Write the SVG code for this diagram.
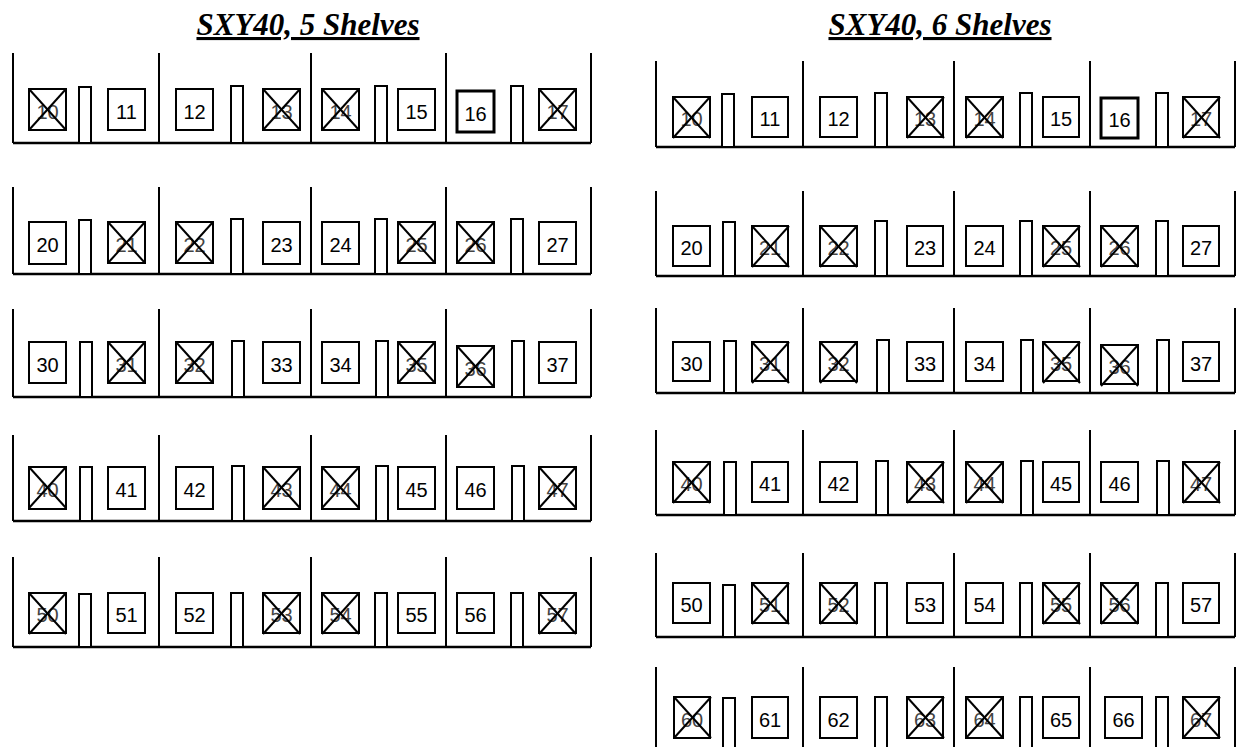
<svg xmlns="http://www.w3.org/2000/svg" xmlns:xlink="http://www.w3.org/1999/xlink" width="1238" height="747" viewBox="0 0 1238 747">
<style>
.bg{fill:#fff}
.frame{fill:none;stroke:#000;stroke-width:2}
.base{fill:none;stroke:#000;stroke-width:2.5}
.post{fill:#fff;stroke:#000;stroke-width:2}
.box{fill:#fff;stroke:#000;stroke-width:2}
.thick{stroke-width:3}
.x line{stroke:#000;stroke-width:2}
.lbl{font-family:"Liberation Sans",Arial,sans-serif;font-size:20px;text-anchor:middle;fill:#000}
.lx{fill:#444}
.title{font-family:"Liberation Serif","Times New Roman",serif;font-weight:bold;font-style:italic;font-size:31px;text-anchor:middle;text-decoration:underline;fill:#000}
</style>
<defs>
<g id="xm" class="x"><line x1="0" y1="0" x2="37" y2="41"/><line x1="37" y1="0" x2="0" y2="41"/></g>
</defs>
<rect class="bg" x="0" y="0" width="1238" height="747"/>
<g id="titles">
<text class="title" x="308" y="35">SXY40, 5 Shelves</text>
<text class="title" x="940" y="35">SXY40, 6 Shelves</text>
</g>
<g id="shelves">
<!-- left unit -->
<path class="frame" d="M13,53V143M159,53V143M311,53V143M446,53V143M591,53V143"/><path class="base" d="M13,143H591"/>
<path class="frame" d="M13,187V274M159,187V274M311,187V274M446,187V274M591,187V274"/><path class="base" d="M13,274H591"/>
<path class="frame" d="M13,309V397M159,309V397M311,309V397M446,309V397M591,309V397"/><path class="base" d="M13,397H591"/>
<path class="frame" d="M13,435V521M159,435V521M311,435V521M446,435V521M591,435V521"/><path class="base" d="M13,521H591"/>
<path class="frame" d="M13,557V647M159,557V647M311,557V647M446,557V647M591,557V647"/><path class="base" d="M13,647H591"/>
<!-- right unit -->
<path class="frame" d="M656,61V147M803,61V147M954,61V147M1090,61V147M1235,61V147"/><path class="base" d="M656,147H1235"/>
<path class="frame" d="M656,191V276M803,191V276M954,191V276M1090,191V276M1235,191V276"/><path class="base" d="M656,276H1235"/>
<path class="frame" d="M656,308V393M803,308V393M954,308V393M1090,308V393M1235,308V393"/><path class="base" d="M656,393H1235"/>
<path class="frame" d="M656,430V515M803,430V515M954,430V515M1090,430V515M1235,430V515"/><path class="base" d="M656,515H1235"/>
<path class="frame" d="M656,553V637M803,553V637M954,553V637M1090,553V637M1235,553V637"/><path class="base" d="M656,637H1235"/>
<path class="frame" d="M656,667V751M803,667V751M954,667V751M1090,667V751M1235,667V751"/><path class="base" d="M656,751H1235"/>
<!-- posts left -->
<rect class="post" x="79" y="87" width="12" height="56"/><rect class="post" x="231" y="86" width="12" height="57"/><rect class="post" x="375" y="86" width="12" height="57"/><rect class="post" x="511" y="86" width="12" height="57"/>
<rect class="post" x="79" y="220" width="12" height="54"/><rect class="post" x="231" y="219" width="12" height="55"/><rect class="post" x="375" y="219" width="12" height="55"/><rect class="post" x="511" y="219" width="12" height="55"/>
<rect class="post" x="80" y="342" width="12" height="55"/><rect class="post" x="232" y="341" width="12" height="56"/><rect class="post" x="376" y="341" width="12" height="56"/><rect class="post" x="512" y="341" width="12" height="56"/>
<rect class="post" x="80" y="467" width="12" height="54"/><rect class="post" x="232" y="466" width="12" height="55"/><rect class="post" x="376" y="466" width="12" height="55"/><rect class="post" x="512" y="466" width="12" height="55"/>
<rect class="post" x="79" y="594" width="12" height="53"/><rect class="post" x="231" y="593" width="12" height="54"/><rect class="post" x="375" y="593" width="12" height="54"/><rect class="post" x="511" y="593" width="12" height="54"/>
<!-- posts right -->
<rect class="post" x="722" y="94" width="12" height="53"/><rect class="post" x="875" y="93" width="12" height="54"/><rect class="post" x="1020" y="93" width="12" height="54"/><rect class="post" x="1156" y="93" width="12" height="54"/>
<rect class="post" x="723" y="222" width="12" height="54"/><rect class="post" x="875" y="221" width="12" height="55"/><rect class="post" x="1020" y="221" width="12" height="55"/><rect class="post" x="1156" y="221" width="12" height="55"/>
<rect class="post" x="724" y="341" width="12" height="52"/><rect class="post" x="877" y="340" width="12" height="53"/><rect class="post" x="1021" y="340" width="12" height="53"/><rect class="post" x="1157" y="340" width="12" height="53"/>
<rect class="post" x="724" y="462" width="12" height="53"/><rect class="post" x="876" y="461" width="12" height="54"/><rect class="post" x="1021" y="461" width="12" height="54"/><rect class="post" x="1157" y="461" width="12" height="54"/>
<rect class="post" x="723" y="585" width="12" height="52"/><rect class="post" x="875" y="583" width="12" height="54"/><rect class="post" x="1020" y="583" width="12" height="54"/><rect class="post" x="1156" y="583" width="12" height="54"/>
<rect class="post" x="723" y="698" width="12" height="53"/><rect class="post" x="875" y="697" width="12" height="54"/><rect class="post" x="1020" y="697" width="12" height="54"/><rect class="post" x="1156" y="697" width="12" height="54"/>
</g>
<!-- LEFT UNIT BOXES -->
<g id="L-row1">
<g id="L10" transform="translate(29,89)"><rect class="box" width="37" height="41"/><text class="lbl lx" x="18.5" y="29.5">10</text><use xlink:href="#xm"/></g>
<g id="L11" transform="translate(108,89)"><rect class="box" width="37" height="41"/><text class="lbl" x="18.5" y="29.5">11</text></g>
<g id="L12" transform="translate(176,89)"><rect class="box" width="37" height="41"/><text class="lbl" x="18.5" y="29.5">12</text></g>
<g id="L13" transform="translate(263,89)"><rect class="box" width="37" height="41"/><text class="lbl lx" x="18.5" y="29.5">13</text><use xlink:href="#xm"/></g>
<g id="L14" transform="translate(322,89)"><rect class="box" width="37" height="41"/><text class="lbl lx" x="18.5" y="29.5">14</text><use xlink:href="#xm"/></g>
<g id="L15" transform="translate(398,89)"><rect class="box" width="37" height="41"/><text class="lbl" x="18.5" y="29.5">15</text></g>
<g id="L16" transform="translate(457,91)"><rect class="box thick" width="37" height="41"/><text class="lbl" x="18.5" y="29.5">16</text></g>
<g id="L17" transform="translate(539,89)"><rect class="box" width="37" height="41"/><text class="lbl lx" x="18.5" y="29.5">17</text><use xlink:href="#xm"/></g>
</g>
<g id="L-row2">
<g id="L20" transform="translate(29,222)"><rect class="box" width="37" height="42"/><text class="lbl" x="18.5" y="29.5">20</text></g>
<g id="L21" transform="translate(108,222)"><rect class="box" width="37" height="41"/><text class="lbl lx" x="18.5" y="29.5">21</text><use xlink:href="#xm"/></g>
<g id="L22" transform="translate(176,222)"><rect class="box" width="37" height="41"/><text class="lbl lx" x="18.5" y="29.5">22</text><use xlink:href="#xm"/></g>
<g id="L23" transform="translate(263,222)"><rect class="box" width="37" height="42"/><text class="lbl" x="18.5" y="29.5">23</text></g>
<g id="L24" transform="translate(322,222)"><rect class="box" width="37" height="42"/><text class="lbl" x="18.5" y="29.5">24</text></g>
<g id="L25" transform="translate(398,222)"><rect class="box" width="37" height="41"/><text class="lbl lx" x="18.5" y="29.5">25</text><use xlink:href="#xm"/></g>
<g id="L26" transform="translate(457,222)"><rect class="box" width="37" height="41"/><text class="lbl lx" x="18.5" y="29.5">26</text><use xlink:href="#xm"/></g>
<g id="L27" transform="translate(539,222)"><rect class="box" width="37" height="42"/><text class="lbl" x="18.5" y="29.5">27</text></g>
</g>
<g id="L-row3">
<g id="L30" transform="translate(29,342)"><rect class="box" width="37" height="41"/><text class="lbl" x="18.5" y="29.5">30</text></g>
<g id="L31" transform="translate(108,342)"><rect class="box" width="37" height="41"/><text class="lbl lx" x="18.5" y="29.5">31</text><use xlink:href="#xm"/></g>
<g id="L32" transform="translate(176,342)"><rect class="box" width="37" height="41"/><text class="lbl lx" x="18.5" y="29.5">32</text><use xlink:href="#xm"/></g>
<g id="L33" transform="translate(263,342)"><rect class="box" width="37" height="41"/><text class="lbl" x="18.5" y="29.5">33</text></g>
<g id="L34" transform="translate(322,342)"><rect class="box" width="37" height="41"/><text class="lbl" x="18.5" y="29.5">34</text></g>
<g id="L35" transform="translate(398,342)"><rect class="box" width="37" height="41"/><text class="lbl lx" x="18.5" y="29.5">35</text><use xlink:href="#xm"/></g>
<g id="L36" transform="translate(457,346)"><rect class="box" width="37" height="41"/><text class="lbl lx" x="18.5" y="29.5">36</text><use xlink:href="#xm"/></g>
<g id="L37" transform="translate(539,342)"><rect class="box" width="37" height="41"/><text class="lbl" x="18.5" y="29.5">37</text></g>
</g>
<g id="L-row4">
<g id="L40" transform="translate(29,467)"><rect class="box" width="37" height="42"/><text class="lbl lx" x="18.5" y="29.5">40</text><use xlink:href="#xm"/></g>
<g id="L41" transform="translate(108,467)"><rect class="box" width="37" height="42"/><text class="lbl" x="18.5" y="29.5">41</text></g>
<g id="L42" transform="translate(176,467)"><rect class="box" width="37" height="42"/><text class="lbl" x="18.5" y="29.5">42</text></g>
<g id="L43" transform="translate(263,467)"><rect class="box" width="37" height="42"/><text class="lbl lx" x="18.5" y="29.5">43</text><use xlink:href="#xm"/></g>
<g id="L44" transform="translate(322,467)"><rect class="box" width="37" height="42"/><text class="lbl lx" x="18.5" y="29.5">44</text><use xlink:href="#xm"/></g>
<g id="L45" transform="translate(398,467)"><rect class="box" width="37" height="42"/><text class="lbl" x="18.5" y="29.5">45</text></g>
<g id="L46" transform="translate(457,467)"><rect class="box" width="37" height="42"/><text class="lbl" x="18.5" y="29.5">46</text></g>
<g id="L47" transform="translate(539,467)"><rect class="box" width="37" height="42"/><text class="lbl lx" x="18.5" y="29.5">47</text><use xlink:href="#xm"/></g>
</g>
<g id="L-row5">
<g id="L50" transform="translate(29,593)"><rect class="box" width="37" height="40"/><text class="lbl lx" x="18.5" y="29">50</text><use xlink:href="#xm"/></g>
<g id="L51" transform="translate(108,593)"><rect class="box" width="37" height="40"/><text class="lbl" x="18.5" y="29">51</text></g>
<g id="L52" transform="translate(176,593)"><rect class="box" width="37" height="40"/><text class="lbl" x="18.5" y="29">52</text></g>
<g id="L53" transform="translate(263,593)"><rect class="box" width="37" height="40"/><text class="lbl lx" x="18.5" y="29">53</text><use xlink:href="#xm"/></g>
<g id="L54" transform="translate(322,593)"><rect class="box" width="37" height="40"/><text class="lbl lx" x="18.5" y="29">54</text><use xlink:href="#xm"/></g>
<g id="L55" transform="translate(398,593)"><rect class="box" width="37" height="40"/><text class="lbl" x="18.5" y="29">55</text></g>
<g id="L56" transform="translate(457,593)"><rect class="box" width="37" height="40"/><text class="lbl" x="18.5" y="29">56</text></g>
<g id="L57" transform="translate(539,593)"><rect class="box" width="37" height="40"/><text class="lbl lx" x="18.5" y="29">57</text><use xlink:href="#xm"/></g>
</g>
<!-- RIGHT UNIT BOXES -->
<g id="R-row1">
<g id="R10" transform="translate(673,97)"><rect class="box" width="37" height="40"/><text class="lbl lx" x="18.5" y="29">10</text><use xlink:href="#xm"/></g>
<g id="R11" transform="translate(752,97)"><rect class="box" width="36" height="40"/><text class="lbl" x="18" y="29">11</text></g>
<g id="R12" transform="translate(820,97)"><rect class="box" width="37" height="40"/><text class="lbl" x="18.5" y="29">12</text></g>
<g id="R13" transform="translate(907,97)"><rect class="box" width="36" height="40"/><text class="lbl lx" x="18" y="29">13</text><use xlink:href="#xm"/></g>
<g id="R14" transform="translate(966,97)"><rect class="box" width="37" height="40"/><text class="lbl lx" x="18.5" y="29">14</text><use xlink:href="#xm"/></g>
<g id="R15" transform="translate(1043,97)"><rect class="box" width="36" height="40"/><text class="lbl" x="18" y="29">15</text></g>
<g id="R16" transform="translate(1101,98)"><rect class="box thick" width="37" height="40"/><text class="lbl" x="18.5" y="29">16</text></g>
<g id="R17" transform="translate(1183,97)"><rect class="box" width="36" height="40"/><text class="lbl lx" x="18" y="29">17</text><use xlink:href="#xm"/></g>
</g>
<g id="R-row2">
<g id="R20" transform="translate(673,226)"><rect class="box" width="37" height="40"/><text class="lbl" x="18.5" y="29">20</text></g>
<g id="R21" transform="translate(752,226)"><rect class="box" width="36" height="40"/><text class="lbl lx" x="18" y="29">21</text><use xlink:href="#xm"/></g>
<g id="R22" transform="translate(820,226)"><rect class="box" width="37" height="40"/><text class="lbl lx" x="18.5" y="29">22</text><use xlink:href="#xm"/></g>
<g id="R23" transform="translate(907,226)"><rect class="box" width="36" height="40"/><text class="lbl" x="18" y="29">23</text></g>
<g id="R24" transform="translate(966,226)"><rect class="box" width="37" height="40"/><text class="lbl" x="18.5" y="29">24</text></g>
<g id="R25" transform="translate(1043,226)"><rect class="box" width="36" height="40"/><text class="lbl lx" x="18" y="29">25</text><use xlink:href="#xm"/></g>
<g id="R26" transform="translate(1101,226)"><rect class="box" width="37" height="40"/><text class="lbl lx" x="18.5" y="29">26</text><use xlink:href="#xm"/></g>
<g id="R27" transform="translate(1183,226)"><rect class="box" width="36" height="40"/><text class="lbl" x="18" y="29">27</text></g>
</g>
<g id="R-row3">
<g id="R30" transform="translate(673,342)"><rect class="box" width="37" height="39"/><text class="lbl" x="18.5" y="28.5">30</text></g>
<g id="R31" transform="translate(752,342)"><rect class="box" width="36" height="39"/><text class="lbl lx" x="18" y="28.5">31</text><use xlink:href="#xm"/></g>
<g id="R32" transform="translate(820,342)"><rect class="box" width="37" height="39"/><text class="lbl lx" x="18.5" y="28.5">32</text><use xlink:href="#xm"/></g>
<g id="R33" transform="translate(907,342)"><rect class="box" width="36" height="39"/><text class="lbl" x="18" y="28.5">33</text></g>
<g id="R34" transform="translate(966,342)"><rect class="box" width="37" height="39"/><text class="lbl" x="18.5" y="28.5">34</text></g>
<g id="R35" transform="translate(1043,342)"><rect class="box" width="36" height="39"/><text class="lbl lx" x="18" y="28.5">35</text><use xlink:href="#xm"/></g>
<g id="R36" transform="translate(1101,345)"><rect class="box" width="37" height="39"/><text class="lbl lx" x="18.5" y="28.5">36</text><use xlink:href="#xm"/></g>
<g id="R37" transform="translate(1183,342)"><rect class="box" width="36" height="39"/><text class="lbl" x="18" y="28.5">37</text></g>
</g>
<g id="R-row4">
<g id="R40" transform="translate(673,462)"><rect class="box" width="37" height="40"/><text class="lbl lx" x="18.5" y="29">40</text><use xlink:href="#xm"/></g>
<g id="R41" transform="translate(752,462)"><rect class="box" width="36" height="40"/><text class="lbl" x="18" y="29">41</text></g>
<g id="R42" transform="translate(820,462)"><rect class="box" width="37" height="40"/><text class="lbl" x="18.5" y="29">42</text></g>
<g id="R43" transform="translate(907,462)"><rect class="box" width="36" height="40"/><text class="lbl lx" x="18" y="29">43</text><use xlink:href="#xm"/></g>
<g id="R44" transform="translate(966,462)"><rect class="box" width="37" height="40"/><text class="lbl lx" x="18.5" y="29">44</text><use xlink:href="#xm"/></g>
<g id="R45" transform="translate(1043,462)"><rect class="box" width="36" height="40"/><text class="lbl" x="18" y="29">45</text></g>
<g id="R46" transform="translate(1101,462)"><rect class="box" width="37" height="40"/><text class="lbl" x="18.5" y="29">46</text></g>
<g id="R47" transform="translate(1183,462)"><rect class="box" width="36" height="40"/><text class="lbl lx" x="18" y="29">47</text><use xlink:href="#xm"/></g>
</g>
<g id="R-row5">
<g id="R50" transform="translate(673,583)"><rect class="box" width="37" height="40"/><text class="lbl" x="18.5" y="29">50</text></g>
<g id="R51" transform="translate(752,583)"><rect class="box" width="36" height="40"/><text class="lbl lx" x="18" y="29">51</text><use xlink:href="#xm"/></g>
<g id="R52" transform="translate(820,583)"><rect class="box" width="37" height="40"/><text class="lbl lx" x="18.5" y="29">52</text><use xlink:href="#xm"/></g>
<g id="R53" transform="translate(907,583)"><rect class="box" width="36" height="40"/><text class="lbl" x="18" y="29">53</text></g>
<g id="R54" transform="translate(966,583)"><rect class="box" width="37" height="40"/><text class="lbl" x="18.5" y="29">54</text></g>
<g id="R55" transform="translate(1043,583)"><rect class="box" width="36" height="40"/><text class="lbl lx" x="18" y="29">55</text><use xlink:href="#xm"/></g>
<g id="R56" transform="translate(1101,583)"><rect class="box" width="37" height="40"/><text class="lbl lx" x="18.5" y="29">56</text><use xlink:href="#xm"/></g>
<g id="R57" transform="translate(1183,583)"><rect class="box" width="36" height="40"/><text class="lbl" x="18" y="29">57</text></g>
</g>
<g id="R-row6">
<g id="R60" transform="translate(674,697)"><rect class="box" width="36" height="41"/><text class="lbl lx" x="18" y="29.5">60</text><use xlink:href="#xm"/></g>
<g id="R61" transform="translate(752,697)"><rect class="box" width="36" height="41"/><text class="lbl" x="18" y="29.5">61</text></g>
<g id="R62" transform="translate(820,697)"><rect class="box" width="37" height="41"/><text class="lbl" x="18.5" y="29.5">62</text></g>
<g id="R63" transform="translate(907,697)"><rect class="box" width="36" height="41"/><text class="lbl lx" x="18" y="29.5">63</text><use xlink:href="#xm"/></g>
<g id="R64" transform="translate(966,697)"><rect class="box" width="37" height="41"/><text class="lbl lx" x="18.5" y="29.5">64</text><use xlink:href="#xm"/></g>
<g id="R65" transform="translate(1043,697)"><rect class="box" width="36" height="41"/><text class="lbl" x="18" y="29.5">65</text></g>
<g id="R66" transform="translate(1105,697)"><rect class="box" width="37" height="41"/><text class="lbl" x="18.5" y="29.5">66</text></g>
<g id="R67" transform="translate(1183,697)"><rect class="box" width="36" height="41"/><text class="lbl lx" x="18" y="29.5">67</text><use xlink:href="#xm"/></g>
</g>
</svg>
